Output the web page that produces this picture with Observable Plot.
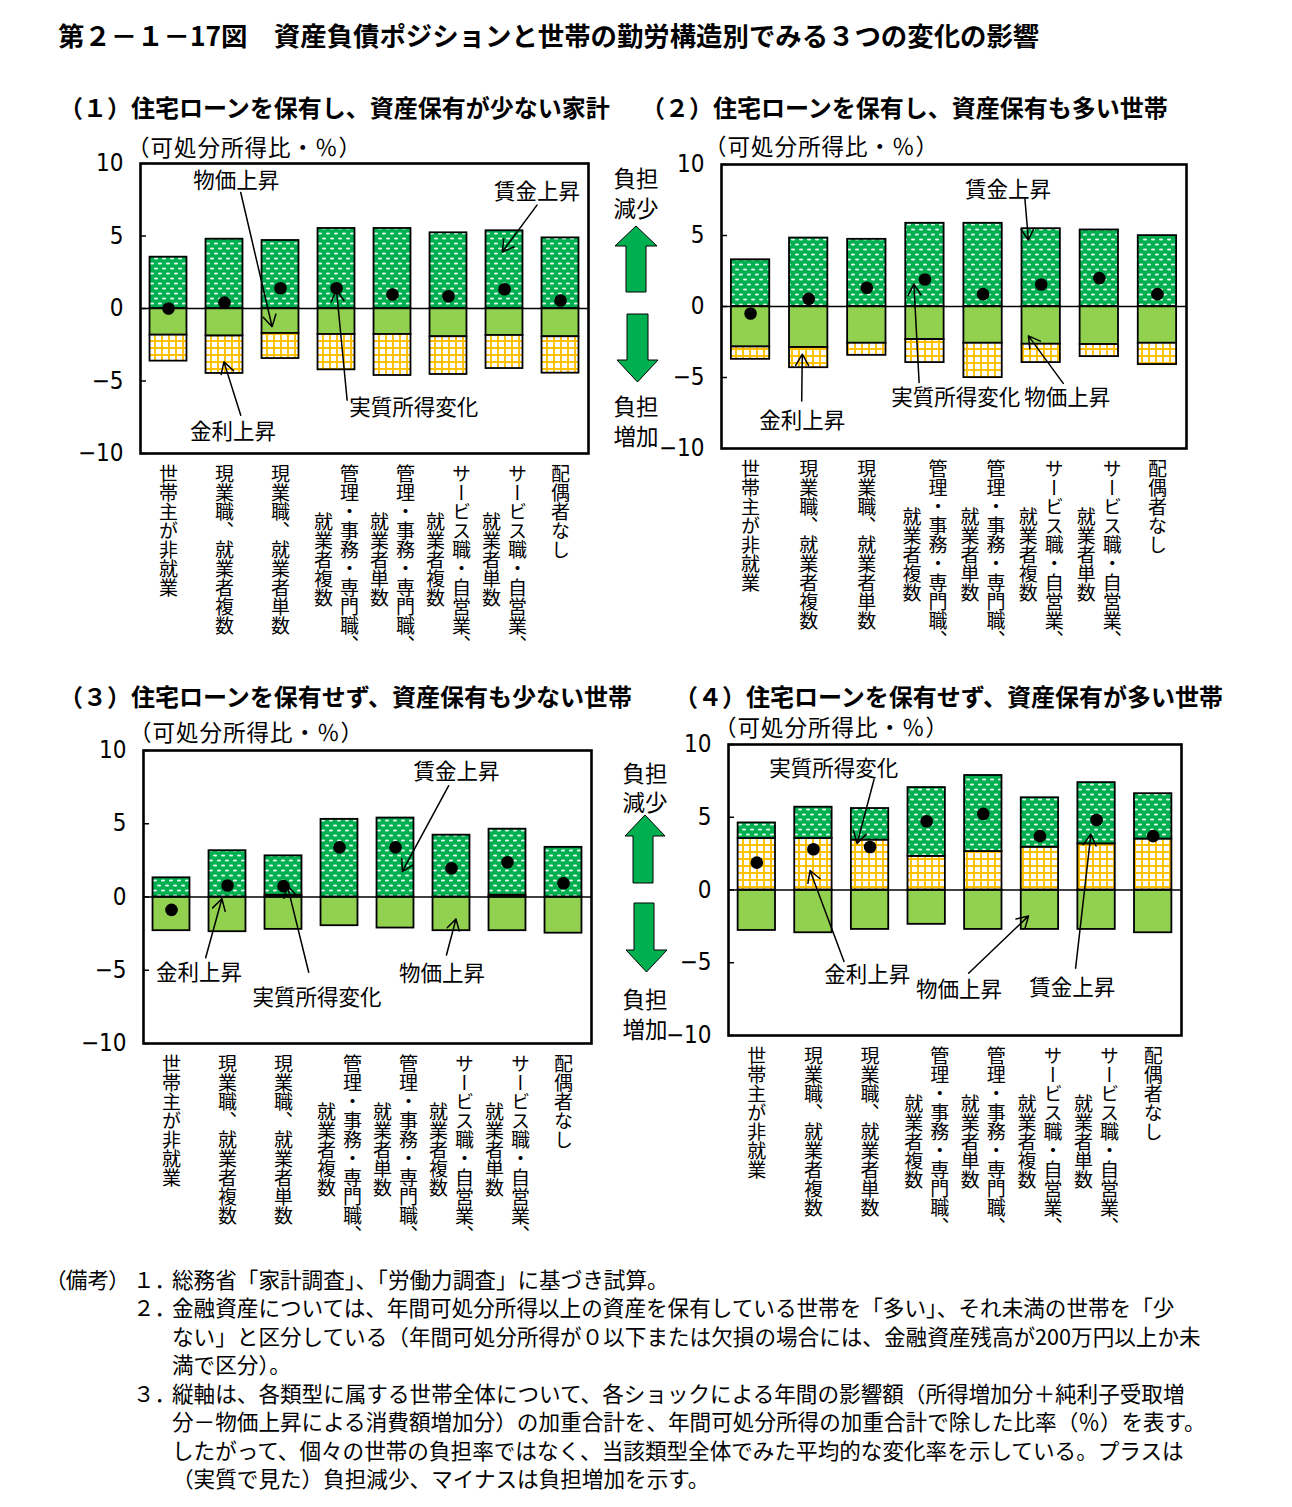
<!DOCTYPE html>
<html><head><meta charset="utf-8">
<script src="https://cdn.jsdelivr.net/npm/d3@7"></script>
<script src="https://cdn.jsdelivr.net/npm/@observablehq/plot@0.6"></script>
<style>
body{margin:0;background:#fff;}
#page{position:relative;width:1292px;height:1507px;background:#fff;font-family:'Noto Sans CJK JP','Noto Sans',sans-serif;color:#000;overflow:hidden}
.t{position:absolute;white-space:nowrap;line-height:1;}
.v{position:absolute;writing-mode:vertical-rl;white-space:pre;text-align:center;font-size:19px;line-height:26px;transform:translateX(-50%);}
#page svg.plot{position:absolute;}
</style></head><body>
<svg width="0" height="0" style="position:absolute">
<defs>
<pattern id="wagePat" width="8" height="10" patternUnits="userSpaceOnUse">
<rect width="8" height="10" fill="#00b050"/>
<ellipse cx="2" cy="2.5" rx="2.1" ry="1" fill="#fff" fill-opacity="0.9"/>
<ellipse cx="6" cy="7.5" rx="2.1" ry="1" fill="#fff" fill-opacity="0.9"/>
</pattern>
<pattern id="intPat" width="7" height="7" patternUnits="userSpaceOnUse">
<rect width="7" height="7" fill="#fff"/>
<path d="M0,1H7M1,0V7" stroke="#ffc000" stroke-width="1.9"/>
</pattern>
</defs></svg>
<div id="page"></div>
<script>
// ---------- data ----------
const cats = ["世帯主が非就業", "現業職、就業者複数", "現業職、就業者単数",
  "管理・事務・専門職、\n就業者複数", "管理・事務・専門職、\n就業者単数",
  "サービス職・自営業、\n就業者複数", "サービス職・自営業、\n就業者単数", "配偶者なし"];
const yTicks = [-10, -5, 0, 5, 10];
const seriesOrder = ["price", "interest", "wage"];

// (1)
const wage1 = [3.54, 4.78, 4.69, 5.52, 5.52, 5.22, 5.36, 4.87];
const price1 = [-1.84, -1.90, -1.72, -1.79, -1.79, -1.95, -1.86, -1.95];
const interest1 = [-1.79, -2.58, -1.73, -2.44, -2.83, -2.60, -2.28, -2.51];
const net1 = [0.0, 0.41, 1.40, 1.40, 0.97, 0.85, 1.33, 0.55];
// (2)
const wage2 = [3.29, 4.82, 4.73, 5.86, 5.86, 5.48, 5.39, 4.99];
const price2 = [-2.85, -2.89, -2.59, -2.33, -2.59, -2.66, -2.68, -2.59];
const interest2 = [-0.87, -1.42, -0.85, -1.62, -2.42, -1.29, -0.85, -1.50];
const net2 = [-0.49, 0.54, 1.32, 1.90, 0.87, 1.55, 2.00, 0.87];
// (3)
const wage3 = [1.31, 3.16, 2.69, 5.30, 5.39, 4.22, 4.51, 3.39];
const price3 = [-2.30, -2.37, -2.21, -1.96, -2.12, -2.30, -2.30, -2.47];
const interest3 = [0, 0, 0.12, 0, 0, 0, 0.12, 0];
const net3 = [-0.88, 0.78, 0.74, 3.39, 3.39, 1.96, 2.37, 0.94];
// (4)
const wage4 = [1.07, 2.15, 2.17, 4.73, 5.23, 3.40, 4.21, 3.12];
const price4 = [-2.78, -2.94, -2.71, -2.36, -2.71, -2.71, -2.71, -2.94];
const interest4 = [3.54, 3.54, 3.43, 2.31, 2.64, 2.94, 3.17, 3.50];
const net4 = [1.88, 2.80, 2.96, 4.72, 5.23, 3.70, 4.81, 3.70];

// callouts: label position (tx,ty), arrow tail (x1,y1) -> head (x2,y2); x in category-index units, y in %
const notes1 = [
  {label: "物価上昇", tx: 1.21, ty: 8.78, x1: 1.29, y1: 8.0, x2: 1.85, y2: -1.26},
  {label: "賃金上昇", tx: 6.58, ty: 8.0, x1: 6.58, y1: 7.13, x2: 5.96, y2: 3.9},
  {label: "金利上昇", tx: 1.15, ty: -8.55, x1: 1.29, y1: -7.36, x2: 0.99, y2: -3.68},
  {label: "実質所得変化", tx: 4.38, ty: -6.9, x1: 3.19, y1: -6.32, x2: 3.0, y2: 1.26}
];
const notes2 = [
  {label: "賃金上昇", tx: 4.43, ty: 8.21, x1: 4.72, y1: 7.58, x2: 4.78, y2: 4.68},
  {label: "金利上昇", tx: 0.89, ty: -8.07, x1: 0.88, y1: -6.66, x2: 0.89, y2: -3.36},
  {label: "実質所得変化", tx: 3.53, ty: -6.42, x1: 2.9, y1: -5.36, x2: 2.81, y2: 1.58},
  {label: "物価上昇", tx: 5.45, ty: -6.42, x1: 5.38, y1: -5.41, x2: 4.78, y2: -2.07}
];
const notes3 = [
  {label: "賃金上昇", tx: 5.09, ty: 8.53, x1: 4.95, y1: 7.6, x2: 4.12, y2: 1.73},
  {label: "金利上昇", tx: 0.49, ty: -5.18, x1: 0.61, y1: -4.15, x2: 0.9, y2: -0.12},
  {label: "実質所得変化", tx: 2.6, ty: -6.91, x1: 2.45, y1: -5.14, x2: 2.07, y2: 0.76},
  {label: "物価上昇", tx: 4.83, ty: -5.23, x1: 4.91, y1: -3.96, x2: 5.08, y2: -1.5}
];
const notes4 = [
  {label: "実質所得変化", tx: 1.36, ty: 8.33, x1: 2.07, y1: 7.59, x2: 1.77, y2: 3.19},
  {label: "金利上昇", tx: 1.95, ty: -5.83, x1: 1.54, y1: -4.91, x2: 0.94, y2: 1.34},
  {label: "物価上昇", tx: 3.57, ty: -6.88, x1: 3.74, y1: -5.72, x2: 4.8, y2: -1.78},
  {label: "賃金上昇", tx: 5.57, ty: -6.71, x1: 5.63, y1: -5.37, x2: 5.9, y2: 3.84}
];

const chartTitle = "第２－１－17図　資産負債ポジションと世帯の勤労構造別でみる３つの変化の影響";
const panelTitles = ["（１）住宅ローンを保有し、資産保有が少ない家計", "（２）住宅ローンを保有し、資産保有も多い世帯",
  "（３）住宅ローンを保有せず、資産保有も少ない世帯", "（４）住宅ローンを保有せず、資産保有が多い世帯"];
const unitLabel = "（可処分所得比・％）";
const noteLines = [
  "総務省「家計調査」、「労働力調査」に基づき試算。",
  "金融資産については、年間可処分所得以上の資産を保有している世帯を「多い」、それ未満の世帯を「少",
  "ない」と区分している（年間可処分所得が０以下または欠損の場合には、金融資産残高が200万円以上か未",
  "満で区分）。",
  "縦軸は、各類型に属する世帯全体について、各ショックによる年間の影響額（所得増加分＋純利子受取増",
  "分－物価上昇による消費額増加分）の加重合計を、年間可処分所得の加重合計で除した比率（％）を表す。",
  "したがって、個々の世帯の負担率ではなく、当該類型全体でみた平均的な変化率を示している。プラスは",
  "（実質で見た）負担減少、マイナスは負担増加を示す。"
];

// ---------- layout / style ----------
const JP = "'Noto Sans CJK JP','Noto Sans',sans-serif";
const NUM = "'Liberation Sans Narrow','DejaVu Sans Condensed','Liberation Sans',sans-serif";
const fills = {wage: "url(#wagePat)", price: "#92d050", interest: "url(#intPat)"};
const barHalf = 0.33;
const page = document.getElementById("page");

function addText(str, x, cy, fs, opts = {}) {
  const d = document.createElement("div");
  d.className = "t";
  d.textContent = str;
  d.style.left = x + "px";
  d.style.top = (cy - 0.556 * fs) + "px";
  d.style.fontSize = fs + "px";
  if (opts.bold) d.style.fontWeight = "bold";
  if (opts.center) d.style.transform = "translateX(-50%)";
  if (opts.palt) d.style.fontFeatureSettings = "'palt'";
  if (opts.ls) d.style.letterSpacing = opts.ls + "px";
  page.appendChild(d);
  return d;
}

function stackRows(series) {
  const rows = [];
  cats.forEach((c, i) => {
    let pos = 0, neg = 0;
    for (const s of seriesOrder) {
      const v = series[s][i];
      if (!v) continue;
      if (v > 0) { rows.push({i, s, y1: pos, y2: pos + v}); pos += v; }
      else { rows.push({i, s, y1: neg, y2: neg + v}); neg += v; }
    }
  });
  return rows;
}

function drawPanel(p) {
  const mL = 70, mT = 12, mR = 12, mB = 20;
  const w = p.R - p.L, h = p.B - p.T;
  const rows = stackRows(p);
  const bar = s => Plot.rect(rows.filter(r => r.s === s), {
    x1: r => r.i - barHalf, x2: r => r.i + barHalf, y1: "y1", y2: "y2",
    fill: fills[s], stroke: "#000", strokeWidth: 1.8
  });
  const svg = Plot.plot({
    width: w + mL + mR, height: h + mT + mB,
    marginLeft: mL, marginTop: mT, marginRight: mR, marginBottom: mB,
    style: {fontFamily: JP, background: "transparent", overflow: "visible"},
    x: {domain: [-0.5, 7.5], axis: null},
    y: {domain: [-10, 10], axis: null},
    marks: [
      bar("price"), bar("interest"), bar("wage"),
      Plot.ruleY([0], {stroke: "#000", strokeWidth: 1.3}),
      Plot.axisY(yTicks, {tickSize: 0, tickPadding: 17, fontSize: 24, fontFamily: NUM,
        tickFormat: d => d < 0 ? "−" + (-d) : String(d)}),
      Plot.axisY(yTicks, {tickSize: -6, tickFormat: () => "", strokeWidth: 1.5}),
      Plot.dot(p.net.map((v, i) => ({i, v})), {x: "i", y: "v", r: 6.3, fill: "#000"}),
      Plot.arrow(p.notes, {x1: "x1", y1: "y1", x2: "x2", y2: "y2", stroke: "#000", strokeWidth: 1.5, headLength: 13}),
      Plot.text(p.notes, {x: "tx", y: "ty", text: "label", fontSize: 21.5, fill: "#000"}),
      Plot.frame({stroke: "#000", strokeWidth: 2.6})
    ]
  });
  svg.classList.add("plot");
  const ox = p.L - mL;
  svg.style.left = ox + "px";
  svg.style.top = (p.T - mT) + "px";
  page.appendChild(svg);
  // vertical (tategaki) category labels, placed with the plot's x scale
  const xs = svg.scale("x");
  cats.forEach((c, i) => {
    const d = document.createElement("div");
    d.className = "v";
    d.textContent = c;
    d.style.left = (ox + xs.apply(i)) + "px";
    d.style.top = (p.B + 11) + "px";
    page.appendChild(d);
  });
}

const panels = [
  {wage: wage1, price: price1, interest: interest1, net: net1, notes: notes1, L: 140, R: 588, T: 163, B: 453},
  {wage: wage2, price: price2, interest: interest2, net: net2, notes: notes2, L: 721, R: 1186, T: 164, B: 448},
  {wage: wage3, price: price3, interest: interest3, net: net3, notes: notes3, L: 143, R: 591, T: 750, B: 1043},
  {wage: wage4, price: price4, interest: interest4, net: net4, notes: notes4, L: 728, R: 1181, T: 744, B: 1035}
];
panels.forEach(drawPanel);

// ---------- texts ----------
addText(chartTitle, 58, 37, 26.4, {bold: true});
addText(panelTitles[0], 59, 108, 24, {bold: true});
addText(panelTitles[1], 641, 108, 24, {bold: true});
addText(panelTitles[2], 59, 697, 24, {bold: true});
addText(panelTitles[3], 674, 697, 24, {bold: true});
addText(unitLabel, 127, 148, 22.5, {ls: 1});
addText(unitLabel, 704, 147, 22.5, {ls: 1});
addText(unitLabel, 129, 733, 22.5, {ls: 1});
addText(unitLabel, 714, 728, 22.5, {ls: 1});

// burden direction indicators
const ind = [
  {cx: 636, lines: [["負担", 179], ["減少", 209], ["負担", 407], ["増加", 437]]},
  {cx: 645, lines: [["負担", 774], ["減少", 803], ["負担", 1000], ["増加", 1030]]}
];
ind.forEach(g => g.lines.forEach(([s, y]) => addText(s, g.cx, y, 22.5, {center: true})));
const deco = document.createElementNS("http://www.w3.org/2000/svg", "svg");
deco.setAttribute("width", 1292); deco.setAttribute("height", 1507);
deco.style.position = "absolute"; deco.style.left = "0"; deco.style.top = "0"; deco.style.pointerEvents = "none";
deco.innerHTML = `
<polygon points="636,226 657,246 646,246 646,292 626,292 626,246 615,246" fill="#00b050" stroke="#000" stroke-width="1"/>
<polygon points="627,314 648,314 648,360 658,360 637.5,382 617,360 627,360" fill="#00b050" stroke="#000" stroke-width="1"/>
<polygon points="645,815 665,836 653,836 653,883 633,883 633,836 625,836" fill="#00b050" stroke="#000" stroke-width="1"/>
<polygon points="634,903 654,903 654,950 667,950 646.5,972 626,950 634,950" fill="#00b050" stroke="#000" stroke-width="1"/>`;
page.appendChild(deco);

// notes
const nfs = 21.6, ny0 = 1280, nstep = 28.5;
addText("（備考）", 55, ny0, nfs, {palt: true});
addText("１．", 133, ny0, nfs);
addText("２．", 133, ny0 + nstep, nfs);
addText("３．", 133, ny0 + 4 * nstep, nfs);
noteLines.forEach((s, i) => addText(s, 172, ny0 + i * nstep, nfs));
</script></body></html>
